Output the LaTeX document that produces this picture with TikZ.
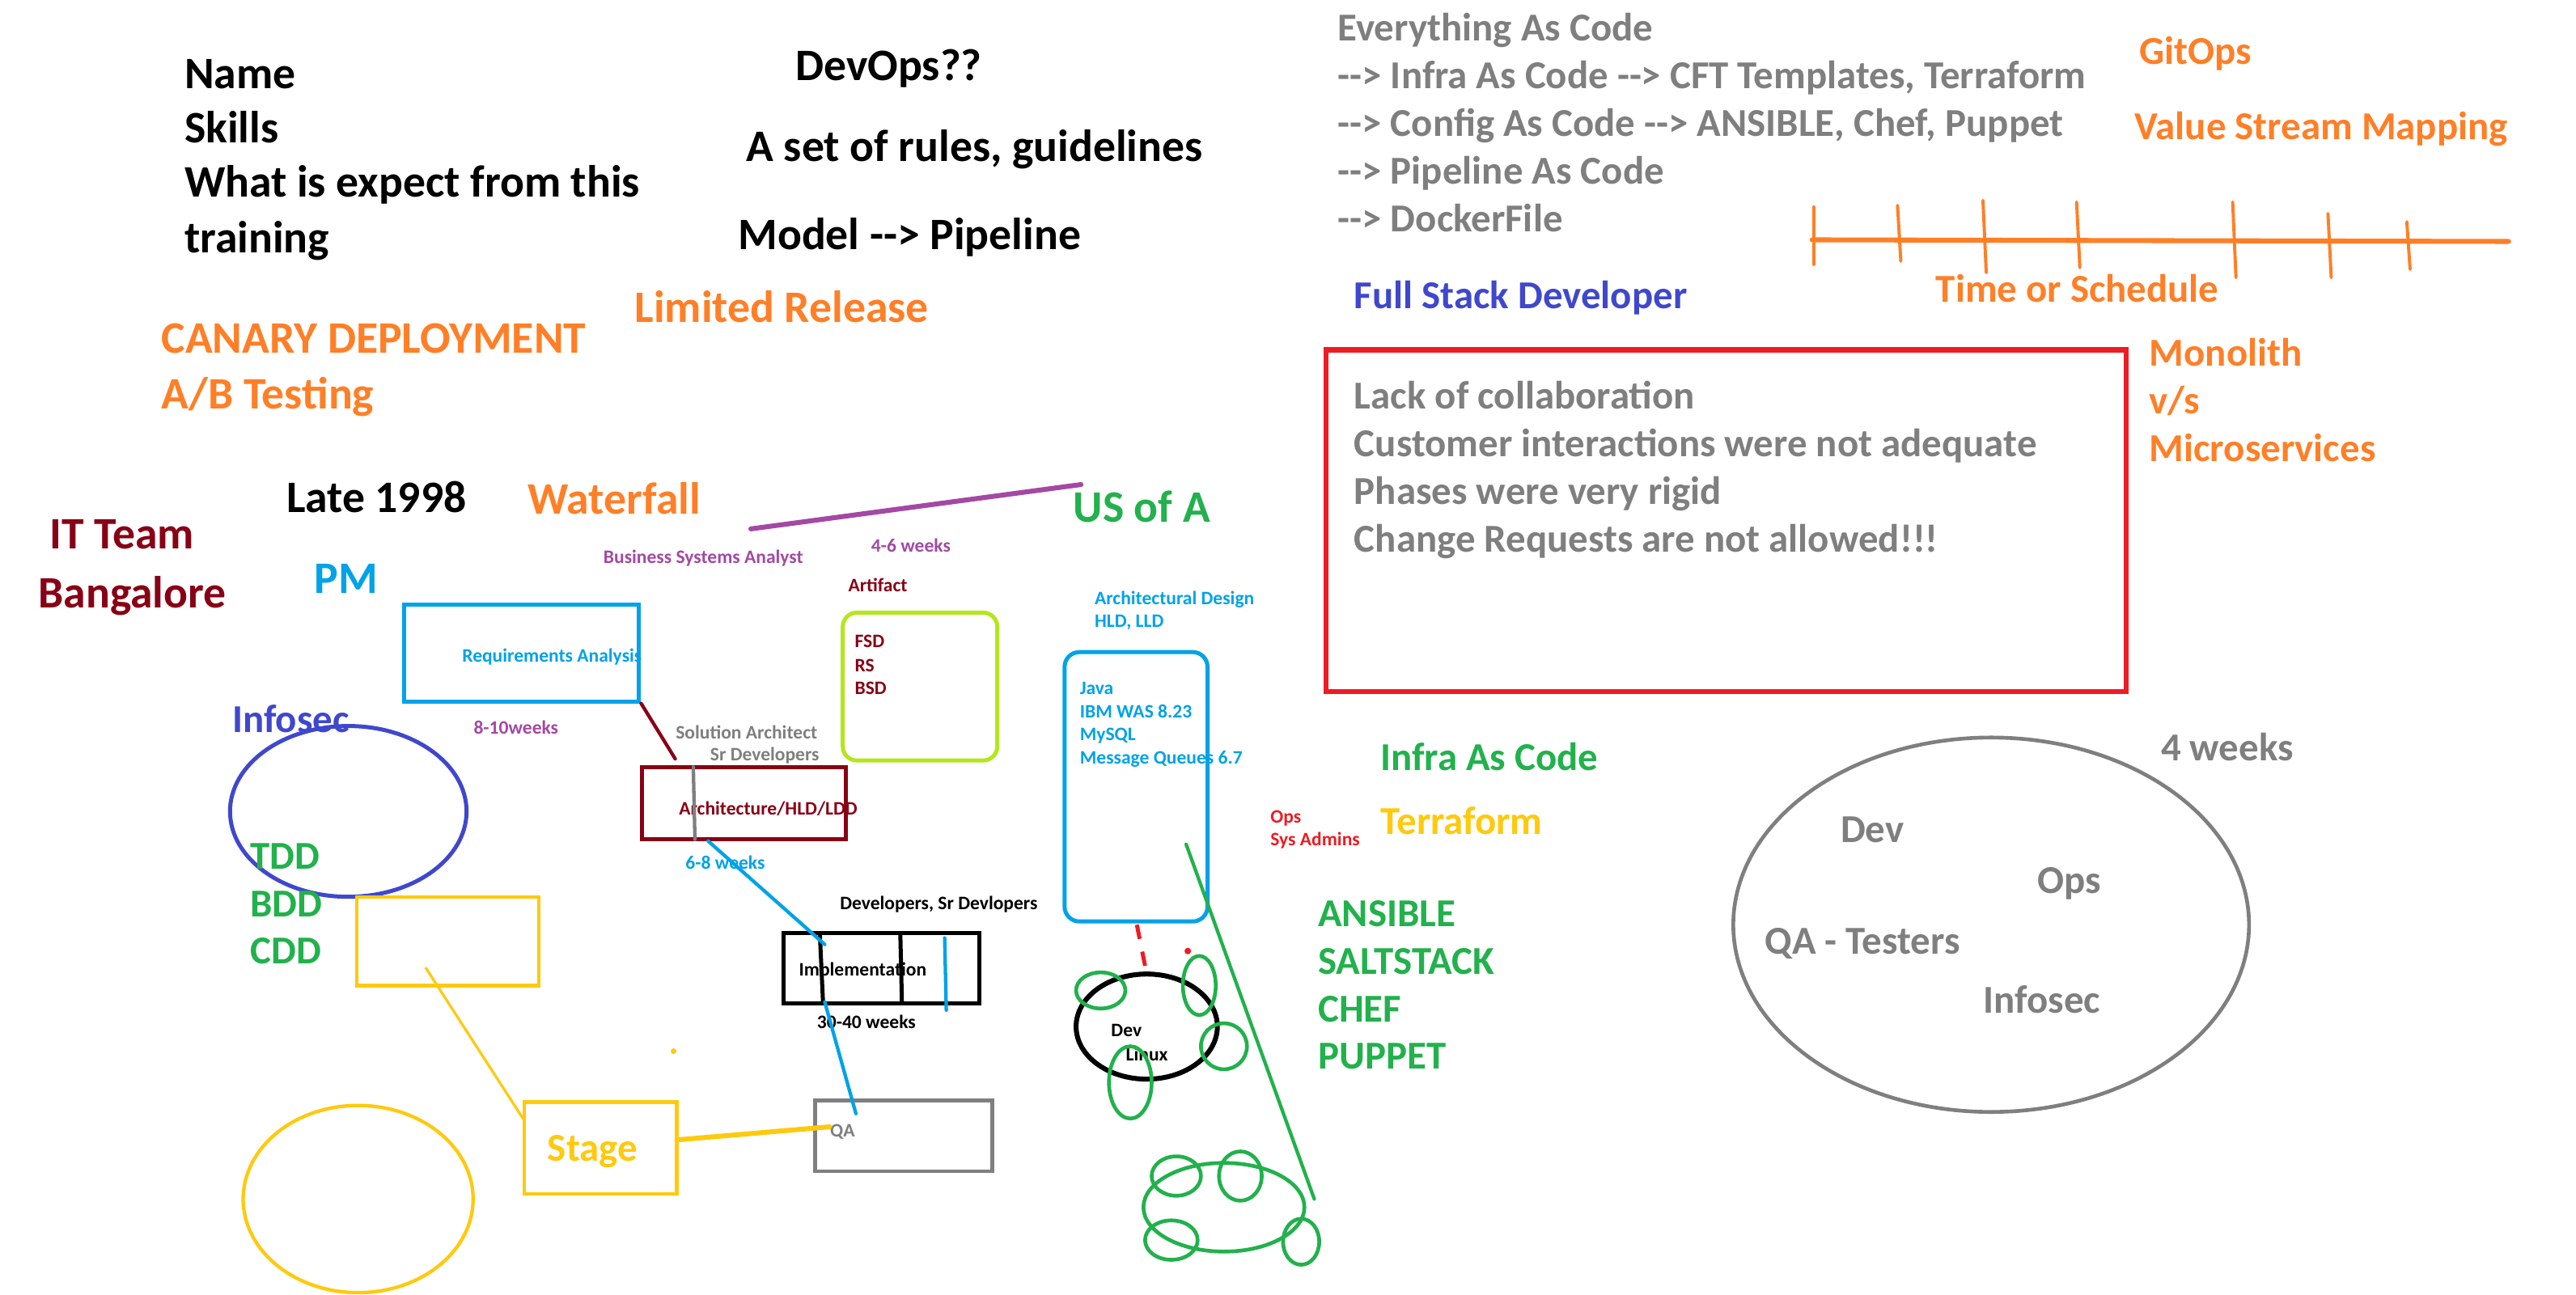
\documentclass[tikz,border=0pt]{standalone}
\usepackage{fontspec}
\setmainfont{Carlito}[Ligatures=TeXOff]
\usetikzlibrary{fit,shapes.geometric}
\definecolor{pgray}{HTML}{7F7F7F}
\definecolor{pdred}{HTML}{880015}
\definecolor{pred}{HTML}{ED1C24}
\definecolor{porange}{HTML}{FF7F27}
\definecolor{pgold}{HTML}{FFC90E}
\definecolor{pgreen}{HTML}{22B14C}
\definecolor{pblue}{HTML}{00A2E8}
\definecolor{pindigo}{HTML}{3F48CC}
\definecolor{ppurple}{HTML}{A349A4}
\definecolor{plime}{HTML}{B5E61D}
\tikzset{
  bigtxt/.style={anchor=base west, inner sep=0pt, yshift=-0.02cm, font=\fontsize{15.6}{18}\selectfont\bfseries},
  midtxt/.style={anchor=base west, inner sep=0pt, yshift=-0.02cm, font=\fontsize{13.7}{16}\selectfont\bfseries},
  smalltxt/.style={anchor=base west, inner sep=0pt, font=\fontsize{6.6}{8}\selectfont\bfseries},
  boxfit/.style={inner sep=0pt, line width=1.4pt},
  ell/.style={ellipse, inner sep=0pt, line width=1.4pt},
  gell/.style={ellipse, inner sep=0pt, draw=pgreen, line width=1.3pt},
  stroke/.style={line width=1.2pt, line cap=round},
}
\begin{document}
\begin{tikzpicture}[x=0.02cm, y=-0.02cm]
\fill[white] (0,0) rectangle (1568,788);
\useasboundingbox (0,0) rectangle (1568,788);

% ---------- top left
\node[bigtxt] (tName) at (112,53) {Name};
\node[bigtxt] (tSkills) at (112,86) {Skills};
\node[bigtxt] (tWhat) at (112,119) {What is expect from this};
\node[bigtxt] (tTrain) at (112,153) {training};
\node[bigtxt] (tDevOps) at (484,48) {DevOps??};
\node[bigtxt] (tRules) at (454,97) {A set of rules, guidelines};
\node[bigtxt] (tModel) at (449,151) {Model --> Pipeline};
\node[bigtxt, text=porange] (tLimited) at (386,195) {Limited Release};
\node[bigtxt, text=porange] (tCanary) at (98,214) {CANARY DEPLOYMENT};
\node[bigtxt, text=porange] (tAB) at (98,248) {A/B Testing};
\node[bigtxt] (tLate) at (174,311) {Late 1998};
\node[bigtxt, text=porange] (tWater) at (321,312) {Waterfall};
\node[bigtxt, text=pdred] (tIT) at (30,333) {IT Team};
\node[bigtxt, text=pdred] (tBang) at (23,369) {Bangalore};
\node[bigtxt, text=pblue] (tPM) at (191,360) {PM};
\node[bigtxt, text=pgreen] (tUS) at (653,317) {US of A};

% ---------- top right
\node[midtxt, text=pgray] (e1) at (814,24) {Everything As Code};
\node[midtxt, text=pgray] (e2) at (814,53) {--> Infra As Code --> CFT Templates, Terraform};
\node[midtxt, text=pgray] (e3) at (814,82) {--> Config As Code --> ANSIBLE, Chef, Puppet};
\node[midtxt, text=pgray] (e4) at (814,111) {--> Pipeline As Code};
\node[midtxt, text=pgray] (e5) at (814,140) {--> DockerFile};
\node[midtxt, text=porange] (tGit) at (1302,38) {GitOps};
\node[midtxt, text=porange] (tVSM) at (1299,84) {Value Stream Mapping};
\node[midtxt, text=porange] (tTime) at (1178,183) {Time or Schedule};
\node[midtxt, text=pindigo] (tFull) at (824,187) {Full Stack Developer};

% timeline
\coordinate (tlA) at (1103,146);
\coordinate (tlB) at (1527,147);
\draw[porange, line width=1.7pt, line cap=round] (tlA) -- (tlB);
\foreach \xa/\ya/\xb/\yb [count=\i] in {1104/126/1104/161, 1155/125/1157/159, 1207/122/1209/166, 1264/123/1266/163, 1359/123/1361/169, 1417/130/1419/169, 1465/135/1467/164}{
  \coordinate (tkA\i) at (\xa,\ya);
  \coordinate (tkB\i) at (\xb,\yb);
  \draw[porange, line width=1.1pt, line cap=round] (tkA\i) -- (tkB\i);
}

% red box
\node[boxfit, draw=pred, line width=1.7pt, fit={(807,213) (1294,421)}] (redBox) {};
\node[midtxt, text=pgray] (l1) at (824,248) {Lack of collaboration};
\node[midtxt, text=pgray] (l2) at (824,277) {Customer interactions were not adequate};
\node[midtxt, text=pgray] (l3) at (824,306) {Phases were very rigid};
\node[midtxt, text=pgray] (l4) at (824,335) {Change Requests are not allowed!!!};
\node[midtxt, text=porange] (m1) at (1308,222) {Monolith};
\node[midtxt, text=porange] (m2) at (1308,251) {v/s};
\node[midtxt, text=porange] (m3) at (1308,280) {Microservices};

% gray ellipse
\node[ell, draw=pgray, line width=1.3pt, minimum width=6.28cm, minimum height=4.56cm] (grayEll) at (1212,563) {};
\node[midtxt, text=pgray] (g4w) at (1315,462) {4 weeks};
\node[midtxt, text=pgray] (gDev) at (1120,512) {Dev};
\node[midtxt, text=pgray] (gOps) at (1240,543) {Ops};
\node[midtxt, text=pgray] (gQA) at (1074,580) {QA - Testers};
\node[midtxt, text=pgray] (gInf) at (1207,616) {Infosec};

% infra texts
\node[midtxt, text=pgreen] (tInfra) at (840,468) {Infra As Code};
\node[midtxt, text=pgold] (tTerra) at (840,507) {Terraform};
\node[midtxt, text=pgreen] (tAns) at (802,563) {ANSIBLE};
\node[midtxt, text=pgreen] (tSalt) at (802,592) {SALTSTACK};
\node[midtxt, text=pgreen] (tChef) at (802,621) {CHEF};
\node[midtxt, text=pgreen] (tPup) at (802,650) {PUPPET};
\node[smalltxt, text=pred] (tOps) at (773,501) {Ops};
\node[smalltxt, text=pred] (tSys) at (773,515) {Sys Admins};

% ---------- waterfall area
\coordinate (purA) at (457,322);
\coordinate (purB) at (658,295);
\draw[ppurple, line width=1.7pt, line cap=round] (purA) -- (purB);
\node[smalltxt, text=ppurple] (tBSA) at (367,343) {Business Systems Analyst};
\node[smalltxt, text=ppurple] (t46) at (530,336) {4-6 weeks};
\node[smalltxt, text=pdred] (tArt) at (516,360) {Artifact};

% requirements
\node[boxfit, draw=pblue, fit={(246,368) (389,427)}] (reqBox) {};
\node[smalltxt, text=pblue] (tReq) at (281,403) {Requirements Analysis};
\node[smalltxt, text=ppurple] (t810) at (288,447) {8-10weeks};

% architecture
\coordinate (drEnd) at (411,462);
\draw[pdred, stroke] (reqBox.south east) -- (drEnd);
\node[smalltxt, text=pgray] (tSol) at (411,450) {Solution Architect};
\node[smalltxt, text=pgray, anchor=base east] (tSr) at (499,463) {Sr Developers};
\node[boxfit, draw=pdred, fit={(391,467) (515,511)}] (archBox) {};
\node[smalltxt, text=pdred] (tArch) at (413,496) {Architecture/HLD/LDD};
\coordinate (gvA) at (422,467);
\coordinate (gvB) at (423,511);
\draw[pgray, stroke] (gvA) -- (gvB);
\node[smalltxt, text=pblue] (t68) at (417,529) {6-8 weeks};

% implementation
\node[smalltxt] (tDevs) at (511,554) {Developers, Sr Devlopers};
\node[boxfit, draw=black, fit={(477,568) (596,611)}] (implBox) {};
\coordinate (iv1a) at (499,568); \coordinate (iv1b) at (501,611);
\coordinate (iv2a) at (548,568); \coordinate (iv2b) at (549,611);
\draw[black, line width=1.4pt] (iv1a) -- (iv1b);
\draw[black, line width=1.4pt] (iv2a) -- (iv2b);
\coordinate (bvA) at (575,571); \coordinate (bvB) at (576,615);
\draw[pblue, stroke] (bvA) -- (bvB);
\node[smalltxt] (tImpl) at (486,594) {Implementation};
\node[smalltxt] (t3040) at (497,626) {30-40 weeks};
\coordinate (baA) at (431,512); \coordinate (baB) at (502,575);
\draw[pblue, stroke] (baA) -- (baB);

% QA
\node[boxfit, draw=pgray, line width=1.3pt, fit={(496,670) (604,713)}] (qaBox) {};
\node[smalltxt, text=pgray] (tQA) at (505,692) {QA};
\coordinate (bqA) at (502,610); \coordinate (bqB) at (521,678);
\draw[pblue, stroke] (bqA) -- (bqB);

% artifact box
\draw[plime, line width=1.4pt, rounded corners=0.17cm] (513,373) rectangle (607,463);
\node[smalltxt, text=pdred] (tFSD) at (520,394) {FSD};
\node[smalltxt, text=pdred] (tRS) at (520,409) {RS};
\node[smalltxt, text=pdred] (tBSD) at (520,423) {BSD};

% java box
\node[smalltxt, text=pblue] (tAD) at (666,368) {Architectural Design};
\node[smalltxt, text=pblue] (tHLD) at (666,382) {HLD, LLD};
\draw[pblue, line width=1.4pt, rounded corners=0.18cm] (648,397) rectangle (735,561);
\node[smalltxt, text=pblue] (tJava) at (657,423) {Java};
\node[smalltxt, text=pblue] (tIBM) at (657,437) {IBM WAS 8.23};
\node[smalltxt, text=pblue] (tSQL) at (657,451) {MySQL};
\node[smalltxt, text=pblue] (tMQ) at (657,465) {Message Queues 6.7};

% dev linux cluster
\node[ell, draw=black, line width=1.7pt, minimum width=1.72cm, minimum height=1.28cm] (devEll) at (698,625) {};
\node[smalltxt] (tDevL) at (676,631) {Dev};
\node[smalltxt] (tLinux) at (685,646) {Linux};
\coordinate (rdA) at (692,563); \coordinate (rdB) at (698,593);
\draw[pred, line width=1.4pt, dash pattern=on 5pt off 4.5pt] (rdA) -- (rdB);
\fill[pred] (723,579) circle [radius=0.04cm];
\node[gell, minimum width=0.60cm, minimum height=0.44cm] (ga) at (670,603) {};
\node[gell, minimum width=0.40cm, minimum height=0.72cm] (gb) at (730,600) {};
\node[gell, minimum width=0.56cm, minimum height=0.56cm] (gc) at (745,637) {};
\node[gell, minimum width=0.52cm, minimum height=0.88cm] (gd) at (688,659) {};
\coordinate (glA) at (722,514); \coordinate (glB) at (800,730);
\draw[pgreen, stroke] (glA) -- (glB);
\node[gell, minimum width=1.96cm, minimum height=1.08cm] (gBig) at (745,735) {};
\node[gell, minimum width=0.60cm, minimum height=0.48cm] (g1) at (716,716) {};
\node[gell, minimum width=0.52cm, minimum height=0.60cm] (g2) at (755,716) {};
\node[gell, minimum width=0.64cm, minimum height=0.48cm] (g3) at (713,755) {};
\node[gell, minimum width=0.44cm, minimum height=0.56cm] (g4) at (792,756) {};

% ---------- left side
\node[midtxt, text=pindigo] (tInfosec) at (141,445) {Infosec};
\node[ell, draw=pindigo, minimum width=2.88cm, minimum height=2.08cm] (infEll) at (212,494) {};
\node[midtxt, text=pgreen] (tTDD) at (152,528) {TDD};
\node[midtxt, text=pgreen] (tBDD) at (152,557) {BDD};
\node[midtxt, text=pgreen] (tCDD) at (152,586) {CDD};
\node[boxfit, draw=pgold, line width=1.2pt, fit={(217,546) (328,600)}] (yBox) {};
\node[boxfit, draw=pgold, line width=1.2pt, fit={(319,671) (412,727)}] (stageBox) {};
\node[midtxt, text=pgold] (tStage) at (333,706) {Stage};
\coordinate (ylA) at (259,589); \coordinate (ylB) at (319,682);
\draw[pgold, line width=0.9pt] (ylA) -- (ylB);
\coordinate (sqA) at (412,694); \coordinate (sqB) at (505,686);
\draw[pgold, line width=1.7pt, line cap=round] (sqA) -- (sqB);
\node[ell, draw=pgold, line width=1.2pt, minimum width=2.80cm, minimum height=2.28cm] (yEll) at (218,730) {};
\fill[pgold] (410,640) circle [radius=0.035cm];
\end{tikzpicture}
\end{document}
